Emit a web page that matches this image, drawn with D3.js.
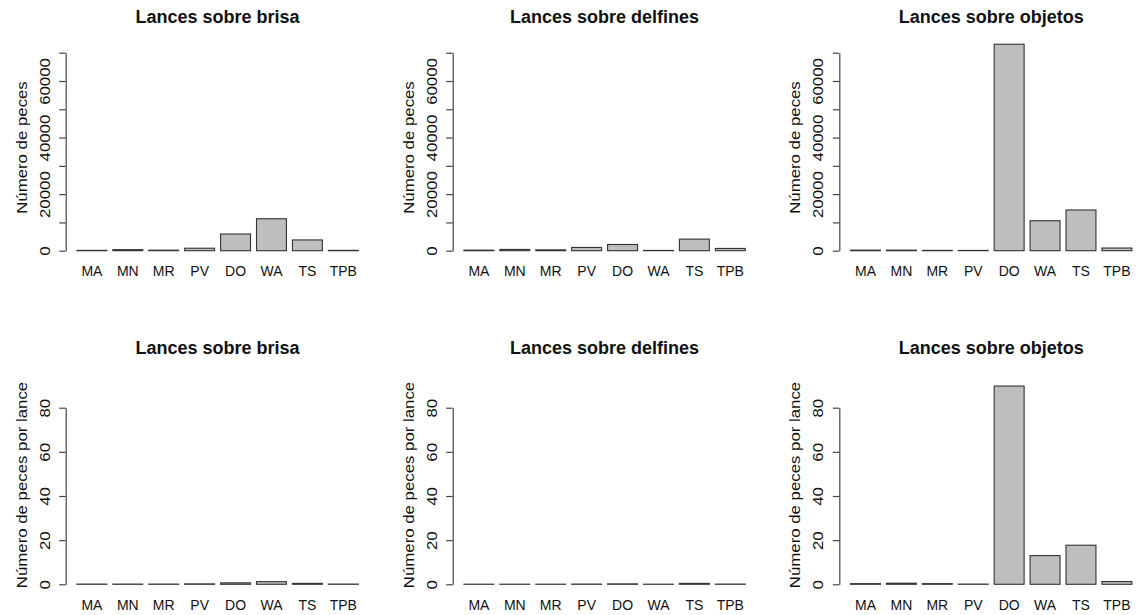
<!DOCTYPE html>
<html>
<head>
<meta charset="utf-8">
<script src="https://cdn.jsdelivr.net/npm/d3@7"></script>
<style>
  html, body { margin: 0; padding: 0; background: #fff; }
  svg { display: block; }
  text { font-family: "Liberation Sans", Arial, Helvetica, sans-serif; fill: #111; }
</style>
</head>
<body>
<svg id="chart" width="1137" height="615"></svg>
<script>
// Species codes along the x axis
const categories = ["MA", "MN", "MR", "PV", "DO", "WA", "TS", "TPB"];

// Set types (one column each)
const setTitles = ["Lances sobre brisa", "Lances sobre delfines", "Lances sobre objetos"];

// Total number of fish by set type
const pecesBrisa    = [120, 380, 180, 880, 5900, 11300, 3800, 130];
const pecesDelfines = [200, 450, 300, 1150, 2200, 100, 4100, 800];
const pecesObjetos  = [200, 200, 120, 100, 73000, 10600, 14400, 950];

// Number of fish per set, by set type
const porLanceBrisa    = [0.1, 0.1, 0.1, 0.2, 0.65, 1.2, 0.4, 0.1];
const porLanceDelfines = [0.05, 0.05, 0.05, 0.1, 0.2, 0.05, 0.4, 0.1];
const porLanceObjetos  = [0.3, 0.5, 0.3, 0.1, 89.8, 13.0, 17.7, 1.25];

// Axis ticks and their labels
const ticksPeces = [0, 10000, 20000, 30000, 40000, 50000, 60000, 70000];
const labelsPeces = ["0", "", "20000", "", "40000", "", "60000", ""];
const ticksLance = [0, 20, 40, 60, 80];
const labelsLance = ["0", "20", "40", "60", "80"];

const yTitles = ["Número de peces", "Número de peces por lance"];

const svg = d3.select("#chart");

// Panel geometry
const plotLeft = [65.7, 452.7, 839.3];
const plotWidth = 303.8;
const rows = [
  { data: [pecesBrisa, pecesDelfines, pecesObjetos], ticks: ticksPeces, labels: labelsPeces,
    domain: [0, 70000], range: [250.7, 52.7], top: 36, bottom: 259,
    titleY: 23, xLabelY: 276, yTitle: yTitles[0] },
  { data: [porLanceBrisa, porLanceDelfines, porLanceObjetos], ticks: ticksLance, labels: labelsLance,
    domain: [0, 80], range: [584.3, 407.7], top: 378, bottom: 592,
    titleY: 354, xLabelY: 609.5, yTitle: yTitles[1] }
];

const axisFont = 14;
const stretch = 1.2;

rows.forEach(row => {
  const y = d3.scaleLinear().domain(row.domain).range(row.range);

  row.data.forEach((values, col) => {
    const left = plotLeft[col];
    const x = d3.scaleBand()
      .domain(categories)
      .range([left, left + plotWidth])
      .paddingInner(1 / 6)
      .paddingOuter(0.3125);

    const g = svg.append("g");

    // Bars
    g.selectAll("rect.bar")
      .data(categories.map((c, i) => ({ c, v: values[i] })))
      .join("rect")
      .attr("class", "bar")
      .attr("x", d => x(d.c))
      .attr("width", x.bandwidth())
      .attr("y", d => y(d.v))
      .attr("height", d => y(0) - y(d.v))
      .attr("fill", "#bebebe")
      .attr("stroke", "#333")
      .attr("stroke-width", 1.1);

    // Category labels
    g.selectAll("text.cat")
      .data(categories)
      .join("text")
      .attr("class", "cat")
      .attr("x", d => x(d) + x.bandwidth() / 2)
      .attr("y", row.xLabelY)
      .attr("text-anchor", "middle")
      .attr("font-size", axisFont)
      .text(d => d);

    // Y axis
    const axis = d3.axisLeft(y)
      .tickValues(row.ticks)
      .tickFormat((d, i) => row.labels[i])
      .tickSize(6.5)
      .tickSizeOuter(0);

    const ag = g.append("g")
      .attr("transform", `translate(${left},0)`)
      .call(axis);
    ag.select(".domain").attr("stroke", "#444").attr("stroke-width", 1.2);
    ag.selectAll(".tick line").attr("stroke", "#444").attr("stroke-width", 1.2);
    ag.selectAll(".tick text")
      .attr("x", null)
      .attr("dy", null)
      .attr("text-anchor", "middle")
      .attr("fill", "#111")
      .attr("font-family", "Liberation Sans, Arial, sans-serif")
      .attr("font-size", axisFont)
      .attr("transform", `translate(-16,0) rotate(-90) scale(${stretch},1)`);

    // Y axis title
    g.append("text")
      .attr("transform", `translate(${left - 39},${(row.top + row.bottom) / 2}) rotate(-90) scale(${stretch},1)`)
      .attr("text-anchor", "middle")
      .attr("font-size", axisFont)
      .text(row.yTitle);

    // Panel title
    g.append("text")
      .attr("x", left + plotWidth / 2)
      .attr("y", row.titleY)
      .attr("text-anchor", "middle")
      .attr("font-size", 18)
      .attr("font-weight", "bold")
      .text(setTitles[col]);
  });
});
</script>
</body>
</html>
